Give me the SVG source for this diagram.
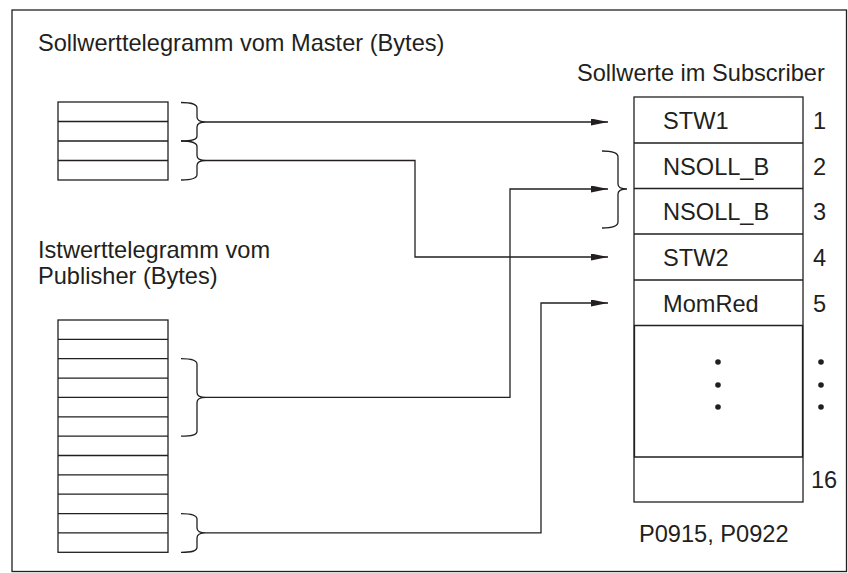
<svg xmlns="http://www.w3.org/2000/svg" width="848" height="573" viewBox="0 0 848 573">
<defs>
<style>
text{font-family:"Liberation Sans",Arial,sans-serif;font-size:23.6px;fill:#231f20}
.ln{fill:none;stroke:#231f20;stroke-width:1.3}
.br{fill:none;stroke:#231f20;stroke-width:1.3}
.bx{fill:#fff;stroke:#231f20;stroke-width:1.3}
.conn{fill:none;stroke:#231f20;stroke-width:1.3}
</style>
<marker id="ah" markerWidth="18" markerHeight="8" refX="17" refY="3.5" orient="auto" markerUnits="userSpaceOnUse">
<path d="M0,0 L17,3.5 L0,7 Z" fill="#231f20"/>
</marker>
</defs>
<rect x="12" y="10" width="834.5" height="561.5" fill="#fff" stroke="#231f20" stroke-width="1.3"/>

<g id="master">
<text x="38" y="51">Sollwerttelegramm vom Master (Bytes)</text>
<rect class="bx" x="58" y="102" width="110" height="78"/>
<path class="ln" d="M58,121.5 H168 M58,141 H168 M58,160.5 H168"/>
<path class="br" d="M181,102.5 C192,102.5 197,104 197,108 L197,117 C197,120 200,122 206,122 C200,122 197,124 197,127 L197,136 C197,140 192,141 181,141"/>
<path class="br" d="M181,141 C192,141 197,142.5 197,146.5 L197,155.5 C197,158.5 200,160.5 206,160.5 C200,160.5 197,162.5 197,165.5 L197,174.5 C197,178.5 192,180 181,180"/>
</g>

<g id="publisher">
<text x="38" y="258">Istwerttelegramm vom</text>
<text x="38" y="284">Publisher (Bytes)</text>
<rect class="bx" x="58" y="320" width="110" height="232.3"/>
<path class="ln" d="M58,339.4 H168 M58,358.7 H168 M58,378.1 H168 M58,397.4 H168 M58,416.8 H168 M58,436.2 H168 M58,455.5 H168 M58,474.9 H168 M58,494.2 H168 M58,513.6 H168 M58,532.9 H168"/>
<path class="br" d="M181,358.7 C192,358.7 197,360.2 197,364.2 L197,392.4 C197,395.4 200,397.4 206,397.4 C200,397.4 197,399.4 197,402.4 L197,431.2 C197,435.2 192,436.2 181,436.2"/>
<path class="br" d="M181,513.6 C192,513.6 197,515.1 197,519.1 L197,527.9 C197,530.9 200,532.9 206,532.9 C200,532.9 197,534.9 197,537.9 L197,547.3 C197,551.3 192,552.3 181,552.3"/>
</g>

<g id="subscriber">
<text x="577" y="81">Sollwerte im Subscriber</text>
<rect class="bx" x="634" y="97" width="169" height="405"/>
<path class="ln" d="M634,143 H803 M634,188.5 H803 M634,234 H803 M634,280 H803 M634,325.5 H803 M634,457 H803"/>
<path class="ln" stroke-width="2.4" d="M634.5,325.5 V457 M802.5,325.5 V457"/>
<text x="663" y="129">STW1</text>
<text x="663" y="175">NSOLL_B</text>
<text x="663" y="220">NSOLL_B</text>
<text x="663" y="266">STW2</text>
<text x="663" y="312">MomRed</text>
<text x="813" y="129">1</text>
<text x="813" y="175">2</text>
<text x="813" y="220">3</text>
<text x="813" y="266">4</text>
<text x="813" y="312">5</text>
<text x="811" y="488">16</text>
<circle cx="718" cy="362" r="2.8" fill="#231f20"/>
<circle cx="718" cy="385" r="2.8" fill="#231f20"/>
<circle cx="718" cy="407" r="2.8" fill="#231f20"/>
<circle cx="821" cy="362" r="2.8" fill="#231f20"/>
<circle cx="821" cy="385" r="2.8" fill="#231f20"/>
<circle cx="821" cy="407" r="2.8" fill="#231f20"/>
<path class="br" d="M602,151 C613,151 618,152.5 618,157 L618,184 C618,187 621,189 627,189 C621,189 618,191 618,194 L618,222 C618,226.5 613,228 602,228"/>
<text x="639" y="542">P0915, P0922</text>
</g>

<g id="connectors">
<path class="conn" marker-end="url(#ah)" d="M206,122 H608"/>
<path class="conn" marker-end="url(#ah)" d="M206,160.5 H415 V257 H608"/>
<path class="conn" marker-end="url(#ah)" d="M206,397.4 H510 V189 H608"/>
<path class="conn" marker-end="url(#ah)" d="M206,532.9 H541 V303 H608"/>
</g>
</svg>
